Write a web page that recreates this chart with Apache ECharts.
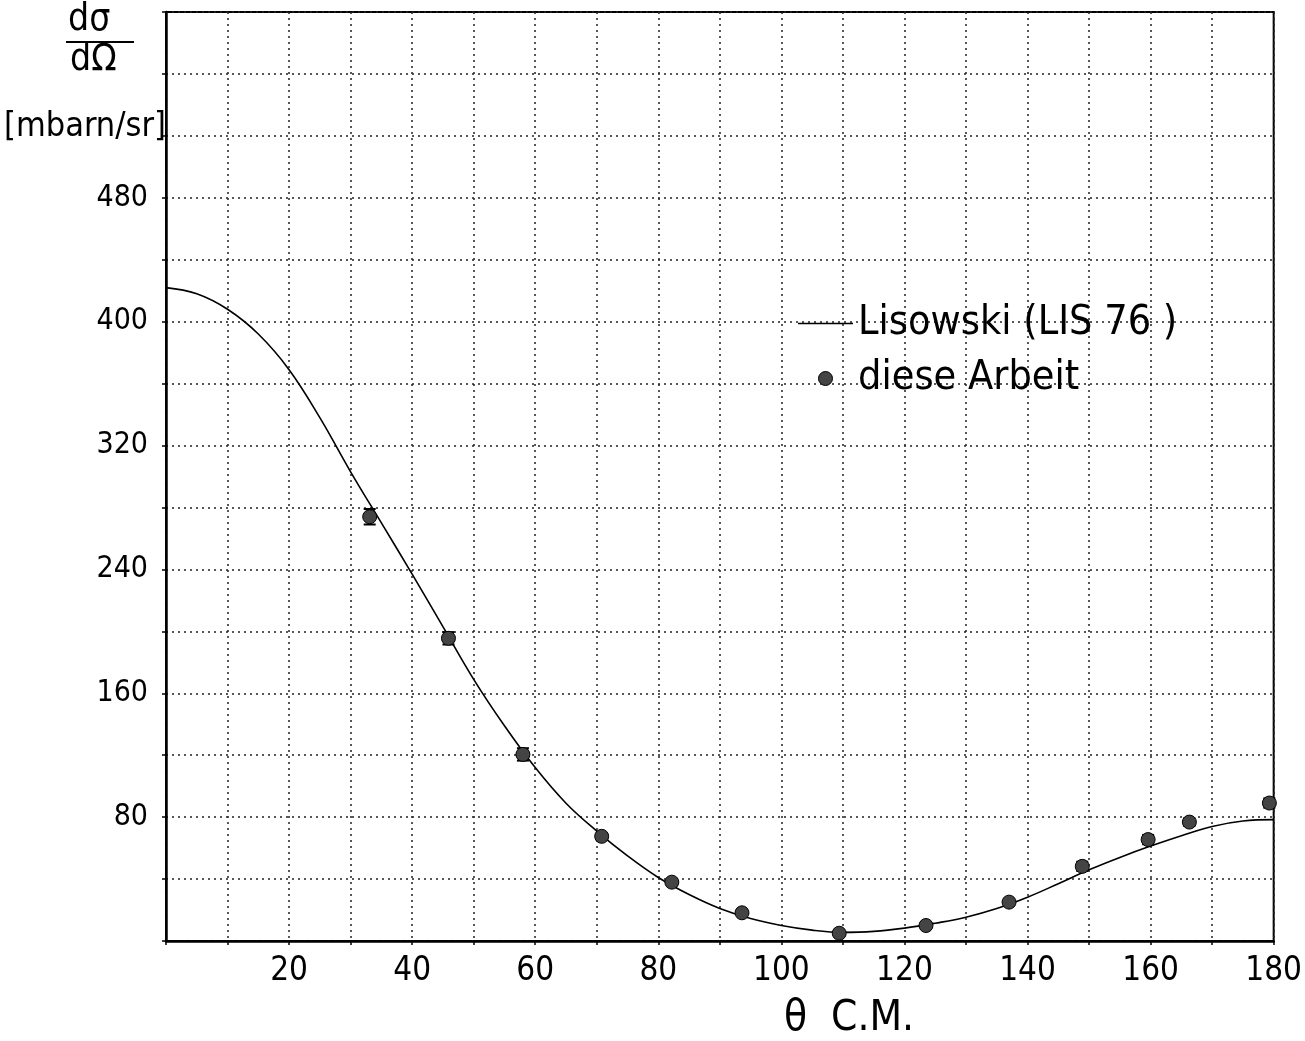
<!DOCTYPE html>
<html>
<head>
<meta charset="utf-8">
<script src="https://cdn.jsdelivr.net/npm/echarts@6/dist/echarts.min.js"></script>
<style>
html,body{margin:0;padding:0;background:#fff;}
#chart{width:1305px;height:1041px;}
</style>
</head>
<body>
<div id="chart"></div>
<script>
// Lisowski (LIS 76) curve
const curveTheta = [0,5,10,15,20,25,30,35,40,45,50,55,60,65,70,75,80,85,90,95,100,105,110,115,120,125,130,135,140,145,150,155,160,165,170,175,180];
const curveSigma = [422,418,408,392,369,338,303,270,237,203,169,139,112,89,71,55,41,30,21,14.5,10,7,5.6,6.2,8.3,11.5,15.4,21,28.3,37,46,54,61.3,68,74,77.5,78.4];
// diese Arbeit (measured points)
const expTheta = [33.1,45.9,58.0,70.8,82.2,93.6,109.4,123.5,137.0,148.9,159.6,166.3,179.3];
const expSigma = [274,195.5,120.5,67.6,38.0,18.2,5.0,10.0,25.1,48.2,65.5,76.8,89.1];
const expError = [5,4,4,2,1.5,1,1,1,1.5,3,3,2.5,3];
// ticks
const xTickLabels = [20,40,60,80,100,120,140,160,180];
const yTickLabels = [80,160,240,320,400,480];

const FONT = '"DejaVu Sans Condensed","Liberation Sans Narrow","DejaVu Sans",sans-serif';
const chart = echarts.init(document.getElementById('chart'), null, {renderer:'canvas'});
const gridDots = {show:true, lineStyle:{color:'#222', width:1.5, type:[2,4]}};

chart.setOption({
  animation:false,
  backgroundColor:'#fff',
  grid:{left:166, right:27, top:12, bottom:100, show:true, borderColor:'#000', borderWidth:2, backgroundColor:'transparent'},
  xAxis:{
    type:'value', min:0, max:180, interval:10,
    axisLine:{show:true, lineStyle:{color:'#000', width:2.5}},
    axisTick:{show:true, length:4, lineStyle:{color:'#000', width:1.5}},
    splitLine:gridDots,
    axisLabel:{margin:14, color:'#000', fontSize:33, fontFamily:FONT,
      formatter:v => xTickLabels.indexOf(v) >= 0 ? String(v) : ''}
  },
  yAxis:{
    type:'value', min:0, max:600, interval:40,
    axisLine:{show:true, lineStyle:{color:'#000', width:2.5}},
    axisTick:{show:true, length:4, lineStyle:{color:'#000', width:1.5}},
    splitLine:gridDots,
    axisLabel:{margin:18, color:'#000', fontSize:30, fontFamily:FONT,
      formatter:v => yTickLabels.indexOf(v) >= 0 ? String(v) : ''}
  },
  legend:{
    orient:'vertical', left:793, top:298, itemWidth:55, itemHeight:14, itemGap:14,
    textStyle:{color:'#000', fontSize:41, fontFamily:FONT, lineHeight:40},
    data:[
      {name:'Lisowski (LIS 76 )', icon:'path://M0,0L55,0L55,1.6L0,1.6Z', itemStyle:{color:'#000'}},
      {name:'diese Arbeit', icon:'circle', itemStyle:{color:'#444', borderColor:'#000', borderWidth:1}}
    ]
  },
  graphic:[
    {type:'text', left:68, top:2, style:{text:'dσ', font:'37px '+FONT, fill:'#000'}},
    {type:'line', shape:{x1:66, y1:42, x2:134, y2:42}, style:{stroke:'#000', lineWidth:2}},
    {type:'text', left:70, top:42, style:{text:'dΩ', font:'37px '+FONT, fill:'#000'}},
    {type:'text', left:4, top:110, style:{text:'[mbarn/sr]', font:'34px '+FONT, fill:'#000'}},
    {type:'text', left:784, top:998, style:{text:'θ  C.M.', font:'42px '+FONT, fill:'#000'}}
  ],
  series:[
    {
      name:'Lisowski (LIS 76 )', type:'line', smooth:0.4, symbol:'none',
      lineStyle:{color:'#000', width:1.6},
      data:curveTheta.map((t,i)=>[t, curveSigma[i]]),
      z:3
    },
    {
      name:'diese Arbeit-err', type:'custom',
      data:expTheta.map((t,i)=>[t, expSigma[i], expError[i]]),
      renderItem:function(params, api){
        const x = api.value(0), y = api.value(1), e = api.value(2);
        const top = api.coord([x, y+e]), bot = api.coord([x, y-e]);
        const w = 6;
        return {type:'group', children:[
          {type:'line', shape:{x1:top[0], y1:top[1], x2:bot[0], y2:bot[1]}, style:{stroke:'#000', lineWidth:2}},
          {type:'line', shape:{x1:top[0]-w, y1:top[1], x2:top[0]+w, y2:top[1]}, style:{stroke:'#000', lineWidth:2}},
          {type:'line', shape:{x1:bot[0]-w, y1:bot[1], x2:bot[0]+w, y2:bot[1]}, style:{stroke:'#000', lineWidth:2}}
        ]};
      },
      z:4
    },
    {
      name:'diese Arbeit', type:'scatter', symbol:'circle', symbolSize:14,
      itemStyle:{color:'#444', borderColor:'#000', borderWidth:1, opacity:1},
      data:expTheta.map((t,i)=>[t, expSigma[i]]),
      z:5
    }
  ]
});
</script>
</body>
</html>
